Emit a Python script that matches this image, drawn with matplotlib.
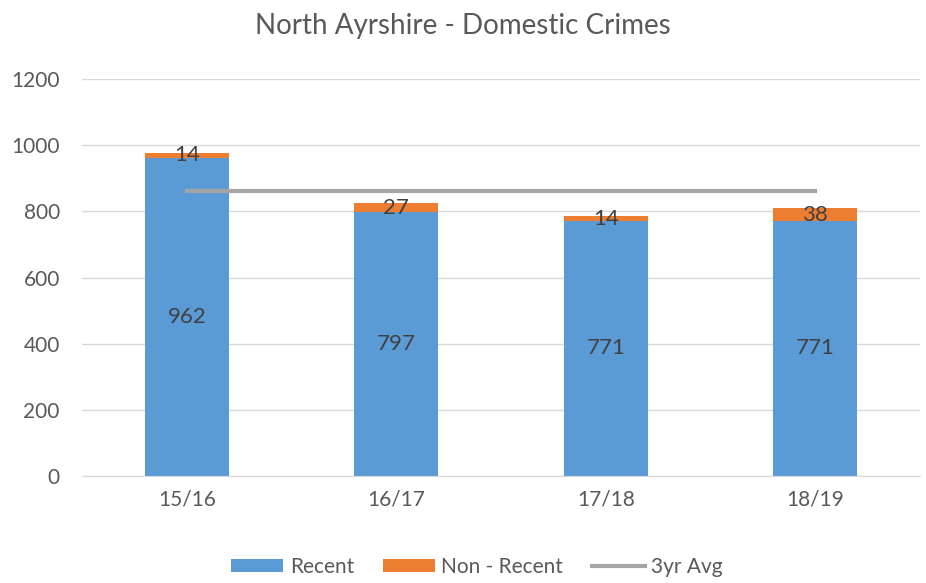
import matplotlib.pyplot as plt
import numpy as np

plt.rcParams['font.family'] = ['Lato', 'DejaVu Sans']

years = ['15/16', '16/17', '17/18', '18/19']
recent = [962, 797, 771, 771]
non_recent = [14, 27, 14, 38]
avg_3yr = [860, 860, 860, 860]

blue = '#5B9BD5'
orange = '#ED7D31'
grey_txt = '#595959'

fig = plt.figure(figsize=(9.26, 5.83), dpi=100)
ax = fig.add_axes([0.0886, 0.1835, 0.905, 0.681])

x = np.arange(len(years))
b1 = ax.bar(x, recent, width=0.40, color=blue, label='Recent', zorder=2)
b2 = ax.bar(x, non_recent, width=0.40, bottom=recent, color=orange,
            label='Non - Recent', zorder=2)
line, = ax.plot(x, avg_3yr, color='#A5A5A5', linewidth=3, label='3yr Avg', zorder=3)

# data labels in the middle of each segment
ax.bar_label(b1, labels=[str(v) for v in recent], label_type='center',
             fontsize=16, color='#404040')
ax.bar_label(b2, labels=[str(v) for v in non_recent], label_type='center',
             fontsize=16, color='#404040')

ax.set_xlim(-0.5, 3.5)
ax.set_ylim(0, 1200)
ax.set_yticks(range(0, 1201, 200))
ax.set_xticks(x)
ax.set_xticklabels(years)
ax.tick_params(axis='both', length=0, labelsize=15, colors=grey_txt)
ax.tick_params(axis='x', pad=10)
ax.tick_params(axis='y', pad=16)
ax.grid(axis='y', color='#D9D9D9', linewidth=1, zorder=0)
ax.set_axisbelow(True)
for s in ['top', 'right', 'left']:
    ax.spines[s].set_visible(False)
ax.spines['bottom'].set_color('#D9D9D9')

fig.suptitle('North Ayrshire - Domestic Crimes', y=0.978, fontsize=20,
             color=grey_txt)

fig.legend(handles=[b1, b2, line], loc='lower center',
           bbox_to_anchor=(0.515, -0.022), ncol=3,
           frameon=False, fontsize=15, labelcolor=grey_txt,
           handlelength=2.5, handleheight=0.6, columnspacing=1.4,
           handletextpad=0.3)

fig.savefig('out.png', dpi=100)
